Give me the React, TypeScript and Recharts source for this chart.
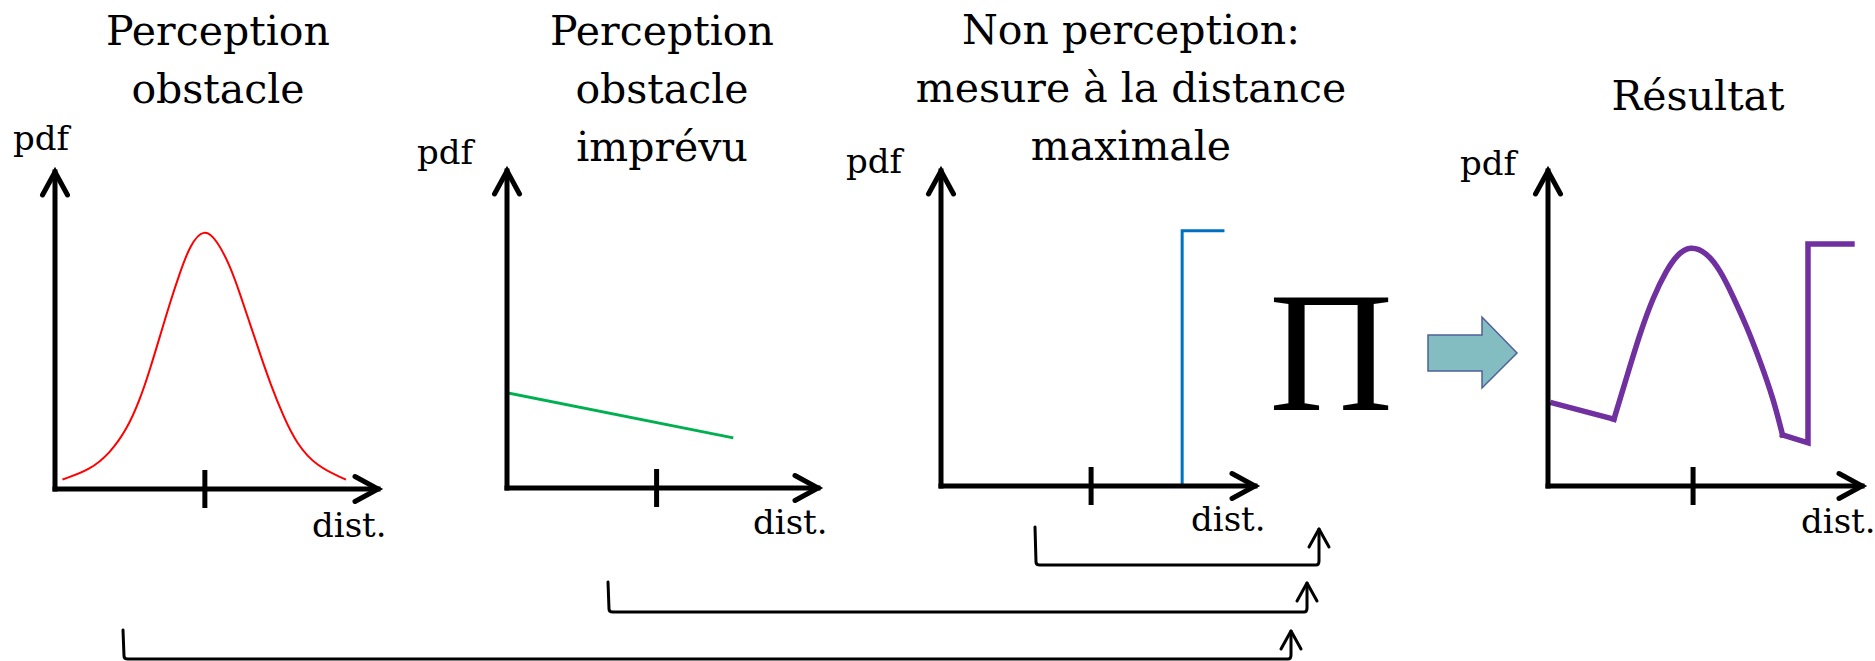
import { LineChart, Line, XAxis, YAxis } from "recharts";

const W = 1875;
const H = 661;

// titles of the four panels
const obstacleTitle = ["Perception", "obstacle"];
const unexpectedTitle = ["Perception", "obstacle", "imprévu"];
const maxRangeTitle = ["Non perception:", "mesure à la distance", "maximale"];
const resultTitle = ["Résultat"];

// distance (d) and pdf (p), both on a 0-100 scale
const obstacleCurve = [
  { d: 2.6, p: 3.1 },
  { d: 10.8, p: 6.0 },
  { d: 17.0, p: 11.3 },
  { d: 22.2, p: 18.7 },
  { d: 26.3, p: 28.2 },
  { d: 29.4, p: 37.7 },
  { d: 32.5, p: 48.2 },
  { d: 35.6, p: 58.8 },
  { d: 38.7, p: 68.3 },
  { d: 41.8, p: 77.0 },
  { d: 46.1, p: 82.3 },
  { d: 50.1, p: 78.6 },
  { d: 54.2, p: 70.4 },
  { d: 57.3, p: 61.5 },
  { d: 60.4, p: 52.0 },
  { d: 63.5, p: 42.6 },
  { d: 66.6, p: 33.4 },
  { d: 70.7, p: 22.9 },
  { d: 74.8, p: 14.3 },
  { d: 81.0, p: 7.1 },
  { d: 89.8, p: 3.1 },
];
const unexpectedLine = [
  { d: 0.3, p: 30.0 },
  { d: 72.3, p: 15.9 },
];
const maxRangeStep = [
  { d: 76.8, p: 0 },
  { d: 76.8, p: 81.0 },
  { d: 89.8, p: 81.0 },
];
const resultLow = [
  { d: 1.6, p: 26.3 },
  { d: 21.0, p: 21.2 },
];
const resultHump = [
  { d: 21.0, p: 21.2 },
  { d: 25.1, p: 34.7 },
  { d: 29.3, p: 48.5 },
  { d: 33.5, p: 60.0 },
  { d: 37.8, p: 68.6 },
  { d: 41.0, p: 73.3 },
  { d: 45.2, p: 76.3 },
  { d: 50.5, p: 74.2 },
  { d: 54.8, p: 68.6 },
  { d: 59.0, p: 60.1 },
  { d: 63.3, p: 50.6 },
  { d: 67.5, p: 39.8 },
  { d: 71.8, p: 27.6 },
  { d: 74.7, p: 16.2 },
];
const resultStep = [
  { d: 74.7, p: 16.2 },
  { d: 82.8, p: 13.7 },
  { d: 82.8, p: 76.8 },
  { d: 96.8, p: 76.8 },
];
// the measured distance marked on each x axis
const measuredDist = [46.4, 48.1, 47.8, 46.2];

type Series = { data: { d: number; p: number }[]; color: string; width: number; type: "basis" | "linear" };

const panels: {
  left: number; right: number; top: number; bottom: number; tick: number; series: Series[];
  pdf: [number, number]; dist: [number, number];
}[] = [
  {
    left: 55, right: 378, top: 172, bottom: 489, tick: measuredDist[0],
    series: [{ data: obstacleCurve, color: "#FF0000", width: 2, type: "basis" }],
    pdf: [13, 150], dist: [312, 537],
  },
  {
    left: 507, right: 818, top: 171, bottom: 488, tick: measuredDist[1],
    series: [{ data: unexpectedLine, color: "#00B050", width: 3, type: "linear" }],
    pdf: [417, 164], dist: [753, 534],
  },
  {
    left: 941, right: 1255, top: 171, bottom: 486, tick: measuredDist[2],
    series: [{ data: maxRangeStep, color: "#0070C0", width: 3, type: "linear" }],
    pdf: [846, 173], dist: [1191, 531],
  },
  {
    left: 1548, right: 1862, top: 171, bottom: 486, tick: measuredDist[3],
    series: [
      { data: resultLow, color: "#7030A0", width: 5.5, type: "linear" },
      { data: resultHump, color: "#7030A0", width: 5.5, type: "basis" },
      { data: resultStep, color: "#7030A0", width: 5.5, type: "linear" },
    ],
    pdf: [1460, 175], dist: [1801, 533],
  },
];

const titles = [
  { lines: obstacleTitle, cx: 218, y: 45 },
  { lines: unexpectedTitle, cx: 662, y: 45 },
  { lines: maxRangeTitle, cx: 1131, y: 44 },
  { lines: resultTitle, cx: 1698, y: 110 },
];

const SERIF = "'DejaVu Serif', serif";

const DistTick = (props: any) => {
  const { x, y } = props;
  return <line x1={x} x2={x} y1={y - 19} y2={y + 19} stroke="#000" strokeWidth={5} />;
};

const Panel = ({ p }: { p: (typeof panels)[number] }) => {
  const axis = { stroke: "#000", strokeWidth: 5, strokeLinecap: "square" as const };
  return (
    <LineChart
      width={W}
      height={H}
      // axes are 1px thick boxes, so shift the plot edges by one pixel
      margin={{ left: p.left - 1, right: W - p.right, top: p.top, bottom: H - p.bottom - 1 }}
      style={{ position: "absolute", left: 0, top: 0 }}
    >
      <XAxis
        type="number"
        dataKey="d"
        domain={[0, 100]}
        ticks={[p.tick]}
        height={1}
        tickSize={0}
        tickMargin={0}
        tickLine={false}
        tick={<DistTick />}
        axisLine={{ ...axis, markerEnd: "url(#axisArrow)" }}
      />
      <YAxis
        type="number"
        domain={[0, 100]}
        width={1}
        tick={false}
        tickLine={false}
        axisLine={{ ...axis, markerStart: "url(#axisArrow)" }}
      />
      {p.series.map((s, i) => (
        <Line
          key={i}
          data={s.data}
          dataKey="p"
          type={s.type}
          stroke={s.color}
          strokeWidth={s.width}
          strokeLinecap="square"
          dot={false}
          activeDot={false}
          isAnimationActive={false}
        />
      ))}
    </LineChart>
  );
};

// hand-drawn looking connectors from each panel to the product sign
const connectors = [
  { x0: 1035, y0: 527, y: 565, x1: 1319, tip: 529 },
  { x0: 608, y0: 582, y: 612, x1: 1307, tip: 583 },
  { x0: 123, y0: 630, y: 659, x1: 1291, tip: 631 },
];

export default function App() {
  return (
    <div style={{ position: "absolute", left: 0, top: 0, width: W, height: H, background: "#fff", overflow: "hidden" }}>
      <svg width={W} height={H} style={{ position: "absolute", left: 0, top: 0 }}>
        <defs>
          <marker
            id="axisArrow"
            markerUnits="userSpaceOnUse"
            viewBox="-30 -18 36 36"
            markerWidth={36}
            markerHeight={36}
            refX={0}
            refY={0}
            orient="auto-start-reverse"
            overflow="visible"
          >
            <path d="M -23 -12.5 L 0 0 L -23 12.5" fill="none" stroke="#000" strokeWidth={5} strokeLinecap="round" strokeLinejoin="miter" />
          </marker>
        </defs>
      </svg>
      {panels.map((p, i) => (
        <Panel key={i} p={p} />
      ))}
      <svg width={W} height={H} style={{ position: "absolute", left: 0, top: 0, pointerEvents: "none" }}>
        {titles.map((t, i) => (
          <text key={i} x={t.cx} y={t.y} textAnchor="middle" fontFamily={SERIF} fontSize={41} fill="#000">
            {t.lines.map((l, j) => (
              <tspan key={j} x={t.cx} y={t.y + j * 58}>
                {l}
              </tspan>
            ))}
          </text>
        ))}
        {panels.map((p, i) => (
          <g key={i} fontFamily={SERIF} fontSize={34} fill="#000">
            <text x={p.pdf[0]} y={p.pdf[1]}>pdf</text>
            <text x={p.dist[0]} y={p.dist[1]}>dist.</text>
          </g>
        ))}
        <text x={1331} y={410} textAnchor="middle" fontFamily="'Liberation Serif', serif" fontSize={172} fill="#000">
          Π
        </text>
        <polygon
          points="1428,335 1482,335 1482,317 1517,353 1482,388 1482,371 1428,371"
          fill="#84BDC1"
          stroke="#50609A"
          strokeWidth={1.5}
        />
        {connectors.map((c, i) => (
          <g key={i} fill="none" stroke="#000" strokeWidth={3} strokeLinecap="round" strokeLinejoin="round">
            <path d={`M ${c.x0} ${c.y0} L ${c.x0 + 1} ${c.y - 3} Q ${c.x0 + 1} ${c.y} ${c.x0 + 5} ${c.y} L ${c.x1 - 3} ${c.y} Q ${c.x1} ${c.y} ${c.x1} ${c.y - 4} L ${c.x1} ${c.tip}`} />
            <path d={`M ${c.x1 - 10} ${c.tip + 18} L ${c.x1} ${c.tip} L ${c.x1 + 10} ${c.tip + 18}`} />
          </g>
        ))}
      </svg>
    </div>
  );
}
